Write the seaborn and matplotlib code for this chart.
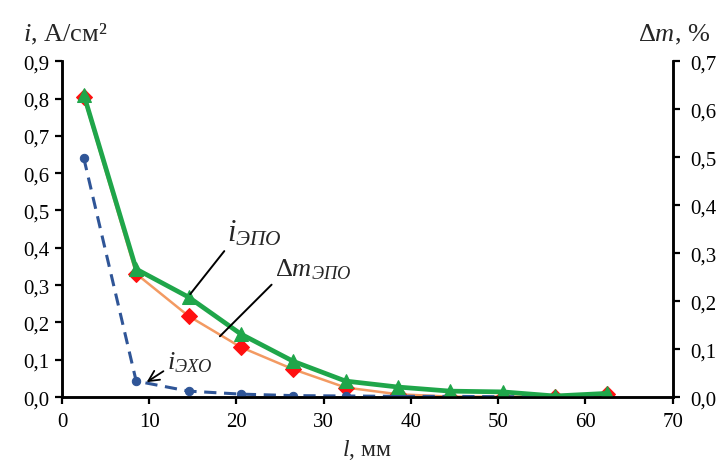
import matplotlib
matplotlib.use("Agg")
import matplotlib.pyplot as plt
from matplotlib.ticker import FuncFormatter, MultipleLocator
import seaborn as sns
import pandas as pd

# Distance from the electrode, mm
l_mm = [2.5, 8.5, 14.5, 20.5, 26.5, 32.5, 38.5, 44.5, 50.5, 56.5, 62.5]
# Current density, A/cm^2
i_epo = [0.81, 0.343, 0.268, 0.169, 0.096, 0.043, 0.027, 0.016, 0.014, 0.003, 0.010]
i_eho = [0.64, 0.043, 0.016, 0.008, 0.004, 0.003, 0.002, 0.002, 0.001, 0.001, 0.001]
# Mass loss, %
dm_epo = [0.625, 0.257, 0.169, 0.104, 0.058, 0.020, 0.006, 0.001, 0.001, 0.001, 0.006]

x_ticks = [0, 10, 20, 30, 40, 50, 60, 70]

sns.set_style("ticks")
plt.rcParams["font.family"] = ["Liberation Serif", "DejaVu Serif"]
plt.rcParams["mathtext.fontset"] = "custom"
plt.rcParams["mathtext.rm"] = "Liberation Serif"
plt.rcParams["mathtext.it"] = "Liberation Serif:italic"

df = pd.DataFrame({"l": l_mm, "i_epo": i_epo, "i_eho": i_eho, "dm_epo": dm_epo})

fig = plt.figure(figsize=(7.21, 4.64), dpi=100)
ax = fig.add_axes([0.086, 0.142, 0.847, 0.724])
ax2 = ax.twinx()
ax.set_zorder(ax2.get_zorder() + 1)
ax.patch.set_visible(False)

# Mass loss on the right axis (drawn underneath)
sns.lineplot(data=df, x="l", y="dm_epo", ax=ax2, color="#f39a62", lw=1.8,
             marker="D", markersize=8, markerfacecolor="#ff1010",
             markeredgecolor="#ff1010")

# Current densities on the left axis
sns.lineplot(data=df, x="l", y="i_eho", ax=ax, color="#2f5597", lw=2.2,
             linestyle=(0, (4, 2.5)), marker="o", markersize=6,
             markerfacecolor="#2f5597", markeredgecolor="#2f5597")
sns.lineplot(data=df, x="l", y="i_epo", ax=ax, color="#1fa64a", lw=3.4,
             marker="^", markersize=10, markerfacecolor="#1fa64a",
             markeredgecolor="#1fa64a")

comma = FuncFormatter(lambda v, p: f"{v:.1f}".replace(".", ","))

ax.set_xlim(0, 70)
ax.set_ylim(0, 0.9)
ax2.set_ylim(0, 0.7)
ax.set_xticks(x_ticks)
ax.yaxis.set_major_locator(MultipleLocator(0.1))
ax2.yaxis.set_major_locator(MultipleLocator(0.1))
ax.yaxis.set_major_formatter(comma)
ax2.yaxis.set_major_formatter(comma)

for a in (ax, ax2):
    a.set_xlabel("")
    a.set_ylabel("")
    a.spines["top"].set_visible(False)
    for s in ("left", "right", "bottom"):
        a.spines[s].set_linewidth(1.8)
        a.spines[s].set_color("black")
    a.tick_params(axis="both", direction="out", length=5, width=1.6,
                  labelsize=15, colors="black", pad=4)
ax2.tick_params(axis="y", pad=8)
ax.tick_params(axis="x", pad=6)

ax.text(-0.064, 1.045, "$\\mathit{i}$, А/см²", transform=ax.transAxes,
        fontsize=19, ha="left", va="bottom")
ax.text(0.943, 1.045, "Δ$\\mathit{m}$, %", transform=ax.transAxes,
        fontsize=19, ha="left", va="bottom")
ax.text(0.5, -0.118, "$\\mathit{l}$, мм", transform=ax.transAxes,
        fontsize=17, ha="center", va="top")

line_kw = dict(arrowstyle="-", color="black", lw=1.4, shrinkA=0, shrinkB=0)
ax.annotate("$\\mathit{i}_{\\mathit{ЭПО}}$", xy=(14.7, 0.276), xytext=(18.9, 0.40),
            fontsize=22, ha="left", va="bottom",
            arrowprops=dict(**line_kw, relpos=(0.0, 0.0)))
ax.annotate("Δ$\\mathit{m}_{\\mathit{ЭПО}}$", xy=(18.1, 0.163), xytext=(24.4, 0.31),
            fontsize=19, ha="left", va="bottom",
            arrowprops=dict(**line_kw, relpos=(0.0, 0.0)))
ax.annotate("$\\mathit{i}_{\\mathit{ЭХО}}$", xy=(9.7, 0.04), xytext=(12.0, 0.062),
            fontsize=19, ha="left", va="bottom",
            arrowprops=dict(arrowstyle="->", color="black", lw=1.3,
                            shrinkA=0, shrinkB=0, relpos=(0.0, 0.2)))

fig.savefig("out.png", dpi=100)
